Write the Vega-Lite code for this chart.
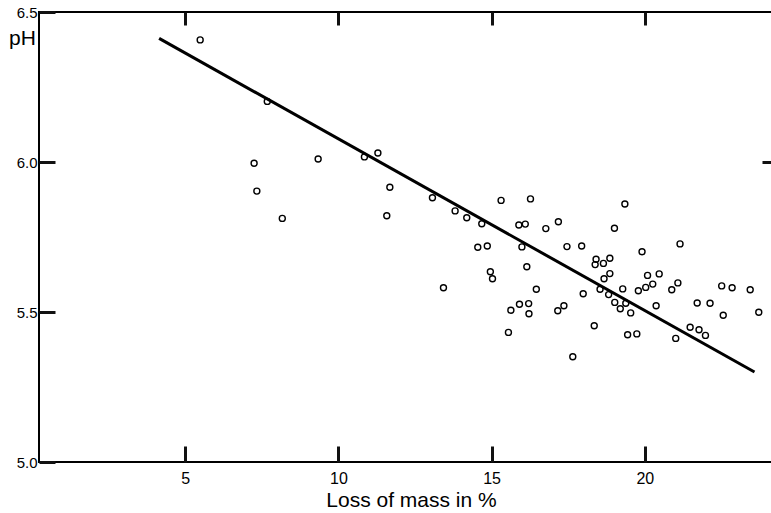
{
  "$schema": "https://vega.github.io/schema/vega-lite/v6.json",
  "width": 740,
  "height": 450,
  "autosize": "none",
  "padding": {"left": 39, "top": 12, "right": 0, "bottom": 51},
  "background": "white",
  "config": {
    "view": {"stroke": "black", "strokeWidth": 2},
    "axis": {
      "domain": false,
      "zindex": 1,
      "tickColor": "#111111",
      "tickWidth": 3,
      "labelColor": "black",
      "titleColor": "black",
      "labelFont": "Liberation Sans",
      "titleFont": "Liberation Sans",
      "grid": false
    }
  },
  "datasets": {
    "points": [
      {"loss": 5.49, "ph": 6.407}, {"loss": 7.68, "ph": 6.202}, {"loss": 7.25, "ph": 5.996},
      {"loss": 7.34, "ph": 5.903}, {"loss": 8.17, "ph": 5.812}, {"loss": 9.34, "ph": 6.010},
      {"loss": 10.85, "ph": 6.017}, {"loss": 11.29, "ph": 6.030}, {"loss": 11.68, "ph": 5.916},
      {"loss": 11.58, "ph": 5.821}, {"loss": 13.07, "ph": 5.881}, {"loss": 13.81, "ph": 5.837},
      {"loss": 14.19, "ph": 5.814}, {"loss": 14.68, "ph": 5.794}, {"loss": 14.55, "ph": 5.716},
      {"loss": 13.43, "ph": 5.581}, {"loss": 15.31, "ph": 5.872}, {"loss": 16.27, "ph": 5.877},
      {"loss": 15.89, "ph": 5.790}, {"loss": 16.10, "ph": 5.793}, {"loss": 16.77, "ph": 5.778},
      {"loss": 17.18, "ph": 5.801}, {"loss": 14.86, "ph": 5.720}, {"loss": 15.99, "ph": 5.717},
      {"loss": 17.46, "ph": 5.718}, {"loss": 17.94, "ph": 5.720}, {"loss": 18.41, "ph": 5.676},
      {"loss": 18.38, "ph": 5.658}, {"loss": 16.15, "ph": 5.651}, {"loss": 14.96, "ph": 5.634},
      {"loss": 15.03, "ph": 5.611}, {"loss": 16.46, "ph": 5.576}, {"loss": 17.99, "ph": 5.561},
      {"loss": 15.91, "ph": 5.526}, {"loss": 16.21, "ph": 5.528}, {"loss": 15.63, "ph": 5.506},
      {"loss": 16.22, "ph": 5.494}, {"loss": 17.36, "ph": 5.521}, {"loss": 17.16, "ph": 5.504},
      {"loss": 18.35, "ph": 5.454}, {"loss": 15.55, "ph": 5.432}, {"loss": 17.65, "ph": 5.351},
      {"loss": 19.35, "ph": 5.860}, {"loss": 19.01, "ph": 5.779}, {"loss": 21.15, "ph": 5.727},
      {"loss": 19.91, "ph": 5.701}, {"loss": 18.65, "ph": 5.662}, {"loss": 18.86, "ph": 5.679},
      {"loss": 18.86, "ph": 5.628}, {"loss": 18.67, "ph": 5.611}, {"loss": 20.09, "ph": 5.622},
      {"loss": 20.47, "ph": 5.627}, {"loss": 18.54, "ph": 5.576}, {"loss": 18.82, "ph": 5.558},
      {"loss": 19.28, "ph": 5.577}, {"loss": 19.02, "ph": 5.532}, {"loss": 19.20, "ph": 5.511},
      {"loss": 19.38, "ph": 5.529}, {"loss": 19.54, "ph": 5.497}, {"loss": 19.79, "ph": 5.571},
      {"loss": 20.03, "ph": 5.582}, {"loss": 20.26, "ph": 5.593}, {"loss": 20.88, "ph": 5.574},
      {"loss": 21.08, "ph": 5.597}, {"loss": 20.37, "ph": 5.521}, {"loss": 19.44, "ph": 5.424},
      {"loss": 19.74, "ph": 5.427}, {"loss": 21.01, "ph": 5.412}, {"loss": 21.48, "ph": 5.449},
      {"loss": 21.77, "ph": 5.441}, {"loss": 21.98, "ph": 5.422}, {"loss": 21.71, "ph": 5.530},
      {"loss": 22.13, "ph": 5.529}, {"loss": 22.51, "ph": 5.587}, {"loss": 22.85, "ph": 5.581},
      {"loss": 23.44, "ph": 5.574}, {"loss": 22.56, "ph": 5.489}, {"loss": 23.72, "ph": 5.499}
    ],
    "fit": [
      {"loss": 4.15, "ph": 6.412},
      {"loss": 23.58, "ph": 5.300}
    ]
  },
  "layer": [
    {
      "data": {"name": "points"},
      "mark": {"type": "point", "shape": "circle", "filled": false, "stroke": "black", "strokeWidth": 1.4, "size": 36, "opacity": 1},
      "encoding": {
        "x": {
          "field": "loss", "type": "quantitative",
          "scale": {"domain": [0.23, 24.38], "nice": false, "zero": false},
          "axis": {
            "orient": "bottom", "values": [5, 10, 15, 20], "tickSize": -16,
            "labelPadding": 24, "labelFontSize": 16, "title": "Loss of mass in %",
            "titleFontSize": 21, "titleFontWeight": "normal", "titlePadding": 3,
            "titleX": 372
          }
        },
        "y": {
          "field": "ph", "type": "quantitative",
          "scale": {"domain": [5.0, 6.5], "nice": false, "zero": false},
          "axis": {
            "orient": "left", "values": [5.0, 5.5, 6.0, 6.5], "format": ".1f", "tickSize": -16,
            "labelPadding": 18, "labelFontSize": 15, "title": "pH", "titleAngle": 0,
            "titleFontSize": 21, "titleFontWeight": "normal", "titleX": -17, "titleY": 26,
            "titleAlign": "center", "titleBaseline": "middle"
          }
        }
      }
    },
    {
      "data": {"name": "fit"},
      "mark": {"type": "line", "color": "black", "strokeWidth": 3},
      "encoding": {
        "x": {
          "field": "loss", "type": "quantitative",
          "axis": {"orient": "top", "values": [5, 10, 15, 20], "tickSize": -13, "labels": false, "title": null}
        },
        "y": {
          "field": "ph", "type": "quantitative",
          "axis": {"orient": "right", "values": [6.0], "tickSize": -17, "labels": false, "title": null}
        }
      }
    }
  ]
}
